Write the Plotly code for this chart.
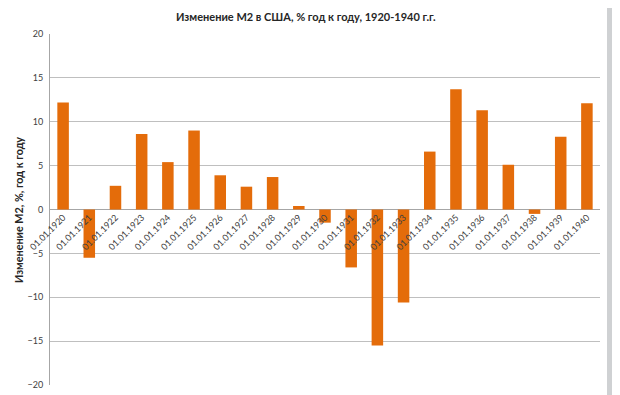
import plotly.graph_objects as go

categories = ["01.01.1920", "01.01.1921", "01.01.1922", "01.01.1923", "01.01.1924",
              "01.01.1925", "01.01.1926", "01.01.1927", "01.01.1928", "01.01.1929",
              "01.01.1930", "01.01.1931", "01.01.1932", "01.01.1933", "01.01.1934",
              "01.01.1935", "01.01.1936", "01.01.1937", "01.01.1938", "01.01.1939",
              "01.01.1940"]
values = [12.2, -5.5, 2.7, 8.6, 5.4, 9.0, 3.9, 2.6, 3.7, 0.4,
          -1.5, -6.6, -15.5, -10.6, 6.6, 13.7, 11.3, 5.1, -0.5, 8.3, 12.1]
y_ticks = [-20, -15, -10, -5, 0, 5, 10, 15, 20]

# page has an 8px body margin; figure coordinates are offset by it
OFF = 8
W, H = 620 - OFF, 395 - OFF
L, T = 50 - OFF, 33.5 - OFF
R = W - (600 - OFF)
B = H - (385.5 - OFF)
pw, ph = W - L - R, H - T - B

def px_x(x):
    return (x - OFF - L) / pw

def px_y(y):
    return 1 - (y - OFF - T) / ph

fig = go.Figure()
fig.add_trace(go.Bar(x=categories, y=values, marker=dict(color="#e46c0a", line=dict(width=0))))

fig.update_layout(
    width=W, height=H,
    margin=dict(l=L, r=R, t=T, b=B, autoexpand=False),
    paper_bgcolor="#cfd1d3",
    plot_bgcolor="white",
    bargap=0.56,
    showlegend=False,
    font=dict(family="Lato, Liberation Sans, sans-serif", color="#404040"),
    xaxis=dict(anchor="free", position=0.5, tickangle=-45, showline=False, showgrid=False,
               ticks="", tickfont=dict(size=9, color="#404040"), automargin=False,
               zeroline=False),
    yaxis=dict(range=[-20, 20], tickvals=y_ticks, showgrid=True, gridcolor="#bfbfbf",
               gridwidth=1, zeroline=True, zerolinecolor="#a6a6a6", zerolinewidth=1,
               showline=True, linecolor="#a6a6a6", linewidth=1, ticks="",
               tickfont=dict(size=9, color="#404040"), automargin=False, ticklabelstandoff=4),
    shapes=[dict(type="rect", xref="paper", yref="paper", layer="below",
                 x0=px_x(0), x1=px_x(607), y0=px_y(H + 20), y1=px_y(-20),
                 fillcolor="white", line=dict(width=0))],
    annotations=[
        dict(text="<b>Изменение М2 в США, % год к году, 1920-1940 г.г.</b>",
             xref="paper", yref="paper", x=px_x(306), y=px_y(16),
             xanchor="center", yanchor="middle", showarrow=False,
             font=dict(size=11, color="#262626", family="Lato, sans-serif")),
        dict(text="<b>Изменение М2, %, год к году</b>", textangle=-90,
             xref="paper", yref="paper", x=px_x(19), y=px_y(210),
             xanchor="center", yanchor="middle", showarrow=False,
             font=dict(size=10.8, color="#262626", family="Lato, sans-serif")),
    ],
)

fig.write_html("out.html")
